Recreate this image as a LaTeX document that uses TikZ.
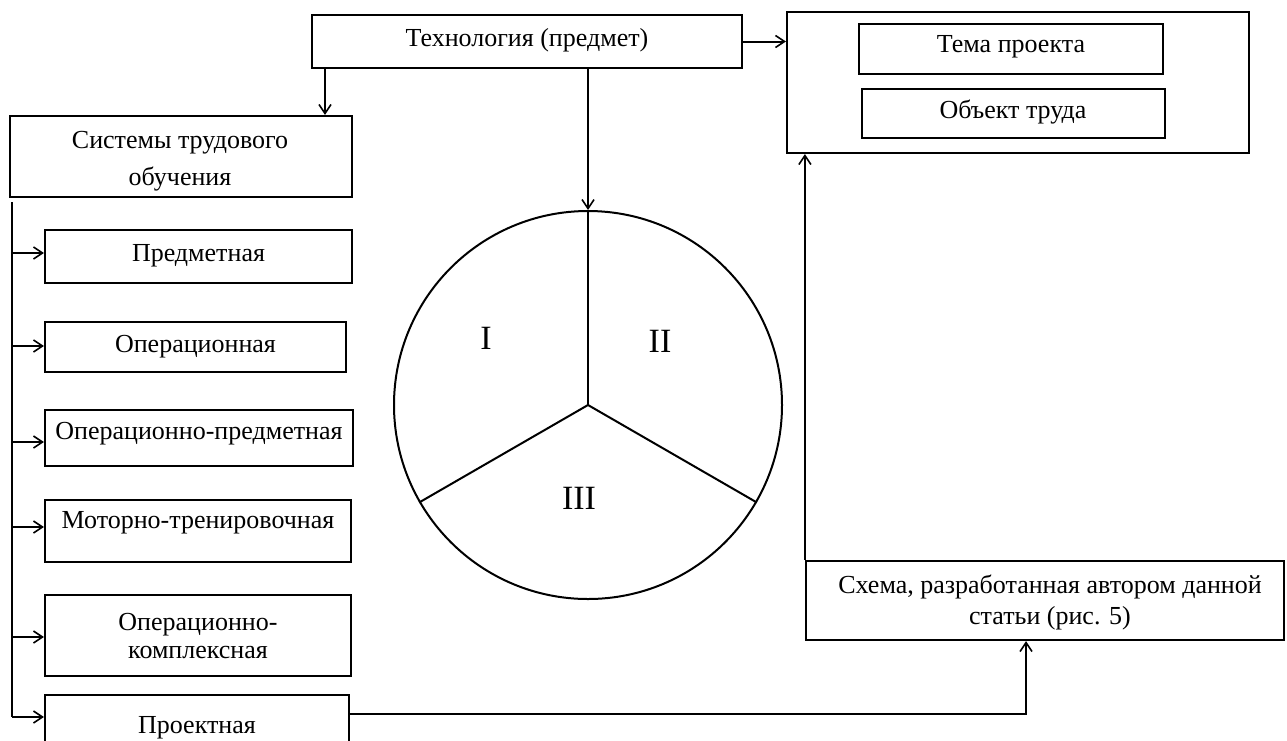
\documentclass[tikz,border=0pt]{standalone}
\usepackage{fontspec}
\setmainfont{Liberation Serif}
\usetikzlibrary{arrows.meta}
\tikzset{
  box/.style={draw, line width=2.2pt, rectangle, inner sep=0pt},
  lbl/.style={font=\fontsize{26}{31}\selectfont, align=center, inner sep=0pt},
  roman/.style={font=\fontsize{34}{36}\selectfont, inner sep=0pt},
  conn/.style={line width=2pt},
  arr/.style={conn, -{Straight Barb[length=9pt,width=12pt,line width=1.6pt]}}
}
\begin{document}
\begin{tikzpicture}[x=1pt,y=-1pt]
\useasboundingbox (0,0) rectangle (1287,740);
% boxes
\node[box, minimum width=430pt, minimum height=53pt] (tech) at (527,41.5) {};
\node[box, minimum width=462pt, minimum height=141pt] (big) at (1018,82.5) {};
\node[box, minimum width=304pt, minimum height=50pt] (tema) at (1011,49) {};
\node[box, minimum width=303pt, minimum height=49pt] (obj) at (1013.5,113.5) {};
\node[box, minimum width=342pt, minimum height=81pt] (sys) at (181,156.5) {};
\node[box, minimum width=307pt, minimum height=53pt] (pred) at (198.5,256.5) {};
\node[box, minimum width=301pt, minimum height=50pt] (oper) at (195.5,347) {};
\node[box, minimum width=308pt, minimum height=56pt] (opred) at (199,438) {};
\node[box, minimum width=306pt, minimum height=62pt] (motor) at (198,531) {};
\node[box, minimum width=306pt, minimum height=81pt] (okom) at (198,635.5) {};
\node[box, minimum width=304pt, minimum height=65pt] (proekt) at (197,727.5) {};
\node[box, minimum width=478pt, minimum height=79pt] (schema) at (1045,600.5) {};
% circle
\node[draw, circle, line width=2pt, minimum size=388pt, inner sep=0pt] (pie) at (588,405) {};
\draw[conn] (pie.center) -- (pie.north);
\draw[conn] (pie.center) -- (pie.210);
\draw[conn] (pie.center) -- (pie.330);
% texts
\node[lbl] (ttech) at (527,40) {Технология (предмет)};
\node[lbl] (ttema) at (1011,47) {Тема проекта};
\node[lbl] (tobj) at (1013,112) {Объект труда};
\node[lbl, font=\fontsize{26}{37}\selectfont] (tsys) at (180,161) {Системы трудового\\обучения};
\node[lbl] (tpred) at (198.5,256) {Предметная};
\node[lbl] (toper) at (195.5,347) {Операционная};
\node[lbl] (topred) at (199,434) {Операционно-предметная};
\node[lbl] (tmotor) at (198,523) {Моторно-тренировочная};
\node[lbl, font=\fontsize{26}{28}\selectfont] (tokom) at (198,636) {Операционно-\\комплексная};
\node[lbl] (tproekt) at (197,728) {Проектная};
\node[lbl] (tschema) at (1050,602) {Схема, разработанная автором данной\\статьи (рис. 5)};
\node[roman] (r1) at (486,338) {I};
\node[roman] (r2) at (660,341) {II};
\node[roman] (r3) at (579,498) {III};
% connectors
\coordinate (ts) at (325,0);
\draw[arr] (tech.south -| ts) -- (sys.north -| ts);
\draw[arr] (tech.east) -- (tech.east -| big.west);
\draw[arr] (tech.south -| pie.north) -- (pie.north);
\coordinate (trtop) at (12,202);
\coordinate (t1) at (12,253);
\coordinate (t2) at (12,346);
\coordinate (t3) at (12,442);
\coordinate (t4) at (12,527);
\coordinate (t5) at (12,637);
\coordinate (t6) at (12,717);
\draw[conn] (trtop) -- (t6);
\draw[arr] (t1) -- (t1 -| pred.west);
\draw[arr] (t2) -- (t2 -| oper.west);
\draw[arr] (t3) -- (t3 -| opred.west);
\draw[arr] (t4) -- (t4 -| motor.west);
\draw[arr] (t5) -- (t5 -| okom.west);
\draw[arr] (t6) -- (t6 -| proekt.west);
\coordinate (pj) at (1026,714);
\draw[arr] (pj -| proekt.east) -- (pj) -- (pj |- schema.south);
\draw[arr] (schema.north west) -- (schema.north west |- big.south);
\end{tikzpicture}
\end{document}
